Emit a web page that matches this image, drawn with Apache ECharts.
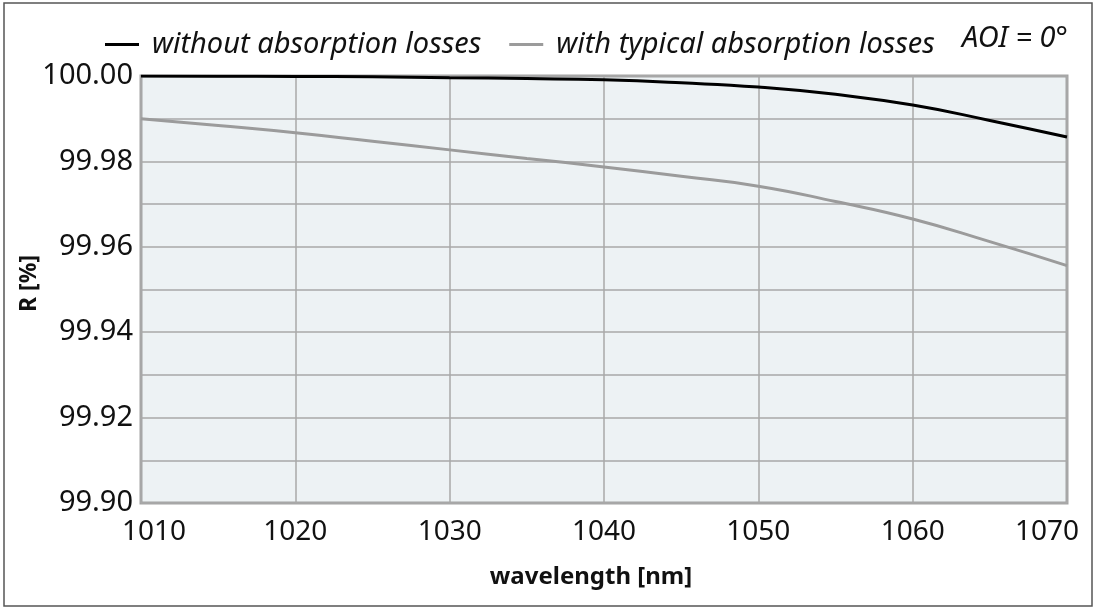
<!DOCTYPE html>
<html>
<head>
<meta charset="utf-8">
<script src="https://cdn.jsdelivr.net/npm/echarts@6/dist/echarts.min.js"></script>
<style>
html,body{margin:0;padding:0;background:#fff;}
#c{width:1097px;height:610px;}
</style>
</head>
<body>
<div id="c"></div>
<script>
var wavelength = [1010, 1015, 1020, 1025, 1030, 1035, 1040, 1045, 1050, 1055, 1060, 1065, 1070];
var withoutLosses = [100.0000, 99.99995, 99.9999, 99.9998, 99.9996, 99.9994, 99.9991, 99.9984, 99.9974, 99.9957, 99.9932, 99.9896, 99.9857];
var withLosses = [99.9900, 99.9884, 99.9867, 99.9847, 99.9827, 99.9807, 99.9787, 99.9765, 99.9742, 99.9706, 99.9665, 99.9612, 99.9556];
var seriesNames = ['without absorption losses', 'with typical absorption losses'];
var aoiText = 'AOI = 0°';
var xName = 'wavelength [nm]';
var yName = 'R [%]';

function pairs(xs, ys) { return xs.map(function (x, i) { return [x, ys[i]]; }); }

var FONT = 'Noto Sans';
var chart = echarts.init(document.getElementById('c'), null, { renderer: 'canvas' });
chart.setOption({
  animation: false,
  backgroundColor: '#ffffff',
  textStyle: { fontFamily: FONT },
  grid: {
    left: 141, right: 30, top: 76, bottom: 107,
    show: true, backgroundColor: '#edf2f4', borderColor: '#a3a3a3', borderWidth: 3
  },
  legend: {
    left: 100, top: 25,
    itemWidth: 34, itemHeight: 3, itemGap: 28,
    icon: 'rect',
    textStyle: { fontFamily: FONT, fontSize: 29, fontStyle: 'italic', color: '#111', padding: [0, 0, 0, 8] },
    data: seriesNames
  },
  graphic: [
    { type: 'rect', shape: { x: 4, y: 3, width: 1088, height: 603 }, style: { fill: 'none', stroke: '#555', lineWidth: 1.5 }, silent: true },
    { type: 'text', right: 29, top: 24, style: { text: aoiText, font: 'italic 29px "Noto Sans"', fill: '#111' } }
  ],
  xAxis: {
    type: 'value', min: 1010, max: 1070, interval: 10,
    name: xName, nameLocation: 'middle', nameGap: 62, nameMoveOverlap: false,
    nameTextStyle: { fontSize: 24, fontWeight: 'bold', color: '#111', padding: [0, 26, 0, 0] },
    axisLine: { show: false }, axisTick: { show: false },
    splitLine: { show: true, lineStyle: { color: '#a8a8a8', width: 1.5 } },
    axisLabel: {
      fontSize: 28, color: '#111', margin: 15,
      formatter: function (v) {
        if (v === 1010) return '{l|' + v + '}';
        if (v === 1070) return '{r|' + v + '}';
        return String(v);
      },
      rich: {
        l: { fontSize: 28, color: '#111', padding: [0, 0, 0, 26] },
        r: { fontSize: 28, color: '#111', padding: [0, 40, 0, 0] }
      }
    }
  },
  yAxis: {
    type: 'value', min: 99.9, max: 100, interval: 0.02,
    name: yName, nameLocation: 'middle', nameGap: 100, nameMoveOverlap: false,
    nameTextStyle: { fontSize: 23, fontWeight: 'bold', color: '#111', padding: [0, 0, 0, 12] },
    axisLine: { show: false }, axisTick: { show: false },
    splitLine: { show: true, lineStyle: { color: '#a8a8a8', width: 1.5 } },
    minorTick: { show: false, splitNumber: 2 },
    minorSplitLine: { show: true, lineStyle: { color: '#a8a8a8', width: 1.5 } },
    axisLabel: {
      fontSize: 29, color: '#111', margin: 8,
      formatter: function (v) { return v.toFixed(2); }
    }
  },
  series: [
    {
      name: seriesNames[0], type: 'line', smooth: true, showSymbol: false,
      data: pairs(wavelength, withoutLosses),
      lineStyle: { color: '#000', width: 3 }, itemStyle: { color: '#000' }, z: 3
    },
    {
      name: seriesNames[1], type: 'line', smooth: true, showSymbol: false,
      data: pairs(wavelength, withLosses),
      lineStyle: { color: '#9b9b9b', width: 3 }, itemStyle: { color: '#9b9b9b' }, z: 2
    }
  ]
});
</script>
</body>
</html>
